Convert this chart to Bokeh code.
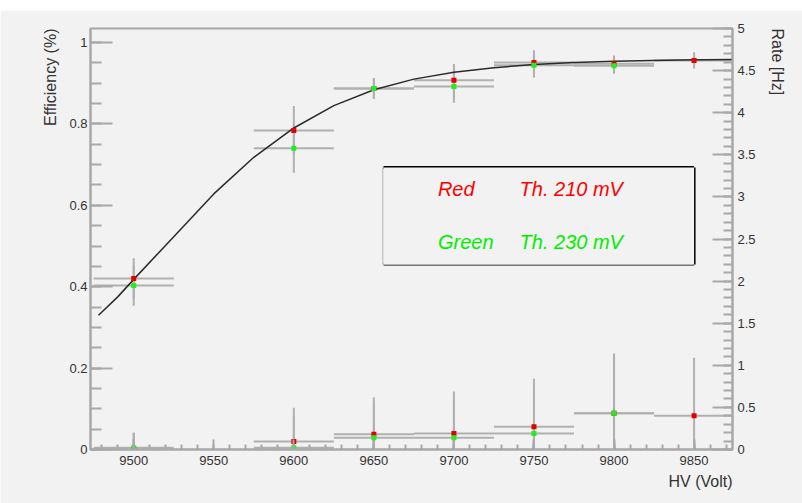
from bokeh.plotting import figure
from bokeh.models import (Range1d, LinearAxis, SingleIntervalTicker, CustomJSTickFormatter,
                          Label, BoxAnnotation, Spacer, Title)
from bokeh.layouts import column
from bokeh.embed import file_html
from bokeh.resources import INLINE

# ---------------- data ----------------
hv_red = [9500, 9600, 9650, 9700, 9750, 9800, 9850]
hv_red_err = [25, 25, 25, 25, 25, 25, 25]
eff_red = [0.420, 0.784, 0.887, 0.907, 0.951, 0.948, 0.956]
eff_red_err = [0.050, 0.060, 0.025, 0.040, 0.030, 0.020, 0.020]
rate_red = [0.00, 0.095, 0.18, 0.19, 0.27, 0.43, 0.40]
rate_red_err = [0.20, 0.40, 0.44, 0.50, 0.57, 0.71, 0.69]

hv_green = [9500, 9600, 9650, 9700, 9750, 9800]
hv_green_err = [25, 25, 25, 25, 25, 25]
eff_green = [0.403, 0.740, 0.887, 0.892, 0.944, 0.943]
eff_green_err = [0.050, 0.060, 0.025, 0.040, 0.030, 0.020]
rate_green = [0.02, 0.02, 0.14, 0.14, 0.19, 0.43]
rate_green_err = [0.18, 0.38, 0.40, 0.45, 0.50, 0.70]

fit_hv = [9478, 9490, 9500, 9525, 9550, 9575, 9600, 9625, 9650, 9675, 9700,
          9725, 9750, 9775, 9800, 9840, 9874]
fit_eff = [0.330, 0.375, 0.418, 0.523, 0.628, 0.718, 0.790, 0.845, 0.884, 0.910,
           0.927, 0.938, 0.946, 0.951, 0.954, 0.957, 0.958]

x_title = "HV (Volt)"
y_title = "Efficiency (%)"
y2_title = "Rate [Hz]"
legend_lines = [("Red", "Th. 210 mV", "#ff0000"), ("Green", "Th. 230 mV", "#00ee00")]

# ---------------- style ----------------
BG = "#f2f2f2"
AX = "#a8a8a8"
TXT = "#333333"
FONT = "Liberation Sans"
ERR = "#b0b0b0"
XMIN, XMAX = 9473, 9874
YMAX = 1.0344

p = figure(width=802, height=493, output_backend="svg", toolbar_location=None,
           x_range=Range1d(XMIN, XMAX), y_range=Range1d(0, YMAX),
           min_border_left=90, min_border_right=70, min_border_top=18,
           min_border_bottom=54, background_fill_color=BG, border_fill_color=BG,
           x_axis_location=None, y_axis_location=None)
p.extra_y_ranges = {"rate": Range1d(0, 5)}
p.xgrid.visible = False
p.ygrid.visible = False
p.outline_line_color = AX
p.outline_line_width = 2

fmt = CustomJSTickFormatter(code="return String(+tick.toFixed(2));")


def style_axis(ax, tin, mtin, standoff):
    ax.axis_line_color = AX
    ax.axis_line_width = 2
    ax.major_tick_line_color = AX
    ax.minor_tick_line_color = AX
    ax.major_tick_line_width = 2
    ax.minor_tick_line_width = 2
    ax.major_tick_in = tin
    ax.major_tick_out = 0
    ax.minor_tick_in = mtin
    ax.minor_tick_out = 0
    ax.major_label_text_font = FONT
    ax.major_label_text_font_size = "13px"
    ax.major_label_text_color = TXT
    ax.major_label_standoff = standoff
    ax.formatter = fmt


xa = LinearAxis(ticker=SingleIntervalTicker(interval=50, num_minor_ticks=5))
style_axis(xa, 10, 5, 6)
p.add_layout(xa, "below")

ya = LinearAxis(ticker=SingleIntervalTicker(interval=0.2, num_minor_ticks=4))
style_axis(ya, 22, 11, 3)
p.add_layout(ya, "left")

ya2 = LinearAxis(y_range_name="rate", ticker=SingleIntervalTicker(interval=0.5, num_minor_ticks=5))
style_axis(ya2, 20, 9, 5)
p.add_layout(ya2, "right")

# axis titles (ROOT style: aligned at the axis end)
for txt, side, al, so in [(x_title, "below", "right", 6), (y_title, "left", "right", 16),
                          (y2_title, "right", "left", 20)]:
    p.add_layout(Title(text=txt, align=al, text_font=FONT, text_font_size="16px",
                       text_font_style="normal", text_color=TXT, standoff=so), side)

# ---------------- error bars ----------------
def errbars(xs, xe, ys, ye, rng=None):
    kw = {} if rng is None else {"y_range_name": rng}
    p.segment(x0=[x - e for x, e in zip(xs, xe)], x1=[x + e for x, e in zip(xs, xe)],
              y0=ys, y1=ys, line_color=ERR, line_width=2, **kw)
    p.segment(x0=xs, x1=xs, y0=[max(y - e, 0) for y, e in zip(ys, ye)],
              y1=[y + e for y, e in zip(ys, ye)], line_color=ERR, line_width=2, **kw)


errbars(hv_red, hv_red_err, eff_red, eff_red_err)
errbars(hv_green, hv_green_err, eff_green, eff_green_err)
errbars(hv_red, hv_red_err, rate_red, rate_red_err, "rate")
errbars(hv_green, hv_green_err, rate_green, rate_green_err, "rate")

# ---------------- fit curve ----------------
p.line(fit_hv, fit_eff, line_color="#2a2a2a", line_width=1.5)

# ---------------- points ----------------
p.scatter(hv_red, eff_red, marker="square", size=5, fill_color="#e00000", line_color=None)
p.scatter(hv_red, rate_red, marker="square", size=5, fill_color="#e00000", line_color=None,
          y_range_name="rate")
p.scatter(hv_green, eff_green, marker="square", size=5, fill_color="#22ee22", line_color=None)
p.scatter(hv_green, rate_green, marker="square", size=5, fill_color="#22ee22", line_color=None,
          y_range_name="rate")

# ---------------- legend pave ----------------
L, R, T, B = 9656, 9850, 0.693, 0.4545
p.add_layout(BoxAnnotation(left=L, right=R, top=T, bottom=B, fill_color=BG, fill_alpha=1,
                           line_color=None))
p.segment(x0=[L, L], x1=[L, R], y0=[B, B], y1=[T, B], line_color=["#c8c8c8", "#777777"],
          line_width=3)
p.segment(x0=[L, R], x1=[R, R], y0=[T, T], y1=[T, B], line_color="black", line_width=3)

for (name, th, col), yy in zip(legend_lines, [0.641, 0.509]):
    p.add_layout(Label(x=9690, y=yy, text=name, text_color=col, text_font=FONT,
                       text_font_size="20px", text_font_style="italic",
                       text_baseline="middle", text_align="left"))
    p.add_layout(Label(x=9741, y=yy, text=th, text_color=col, text_font=FONT,
                       text_font_size="20px", text_font_style="italic",
                       text_baseline="middle", text_align="left"))

layout = column(Spacer(width=802, height=10), p, spacing=0)
open("out.html", "w").write(file_html(layout, INLINE))
